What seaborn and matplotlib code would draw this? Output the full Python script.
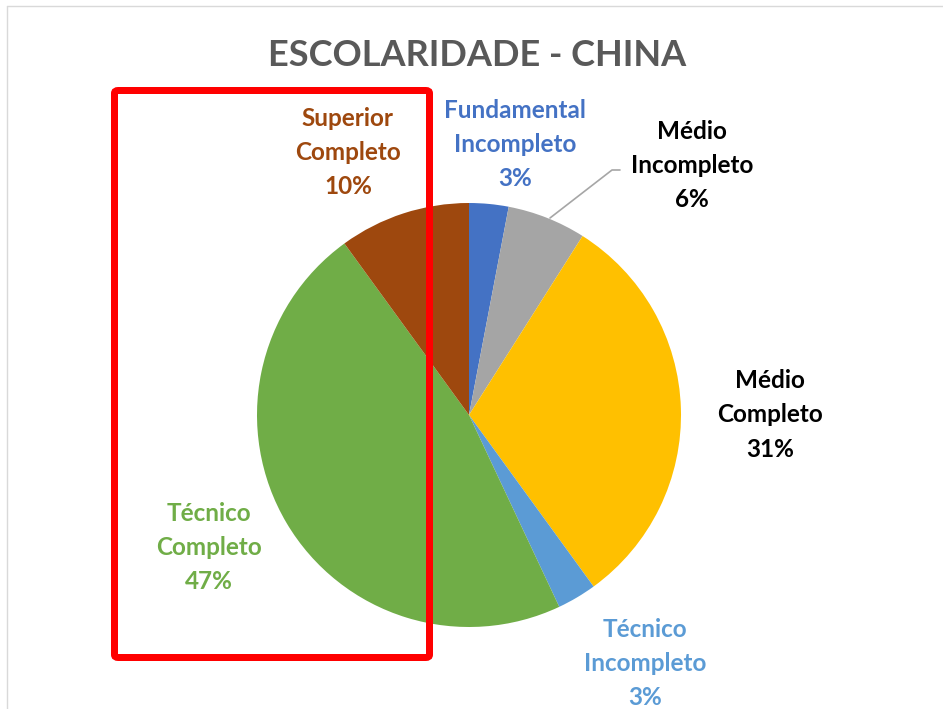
import matplotlib
matplotlib.use("Agg")
import matplotlib.pyplot as plt
from matplotlib.patches import FancyBboxPatch
from matplotlib.lines import Line2D
import seaborn as sns

# Education level shares, clockwise from 12 o'clock
categories = ["Fundamental\nIncompleto", "Médio\nIncompleto", "Médio\nCompleto",
              "Técnico\nIncompleto", "Técnico\nCompleto", "Superior\nCompleto"]
shares = [3, 6, 31, 3, 47, 10]
slice_colors = ["#4472C4", "#A5A5A5", "#FFC000", "#5B9BD5", "#70AD47", "#9E480E"]
label_colors = ["#4472C4", "#000000", "#000000", "#5B9BD5", "#70AD47", "#9E480E"]
title = "ESCOLARIDADE - CHINA"

# label anchor positions in pie-radius units
label_pos = [(0.217, 1.274), (1.052, 1.179), (1.42, 0.0),
             (0.83, -1.17), (-1.226, -0.627), (-0.571, 1.24)]

sns.set_theme(style="white")
plt.rcParams["font.family"] = ["Lato", "DejaVu Sans"]

W, H, DPI = 943, 709, 100
fig = plt.figure(figsize=(W / DPI, H / DPI), dpi=DPI)
fig.patch.set_facecolor("white")
ax = fig.add_axes([0, 0, 1, 1])

R_PX = 212.0
CX, CY = 469.0, 415.0
ax.pie(shares, colors=slice_colors, startangle=90, counterclock=False,
       radius=1.0, center=(0, 0), wedgeprops=dict(linewidth=0))
ax.set_aspect("auto")
ax.set_xlim(-CX / R_PX, (W - CX) / R_PX)
ax.set_ylim(-(H - CY) / R_PX, CY / R_PX)
ax.axis("off")

for text, pct, (x, y), c in zip(categories, shares, label_pos, label_colors):
    ax.text(x, y, f"{text}\n{pct}%", ha="center", va="center", color=c,
            fontsize=17.5, fontweight="bold", linespacing=1.58)

# leader line for the small grey slice
def px(x, y):
    return ((x - CX) / R_PX, (CY - y) / R_PX)
p0, p1, p2 = px(550, 218), px(612, 170), px(620, 170)
ax.add_line(Line2D([p0[0], p1[0], p2[0]], [p0[1], p1[1], p2[1]],
                   color="#A6A6A6", linewidth=1.2))

fig.text(477 / W, (H - 55) / H, title, ha="center", va="center",
         fontsize=26, fontweight="bold", color="#595959")

# chart frame edge
fig.add_artist(Line2D([7 / W, 7 / W], [0, 1 - 6 / H], transform=fig.transFigure,
                      color="#D9D9D9", linewidth=1))
fig.add_artist(Line2D([7 / W, 1], [1 - 6 / H, 1 - 6 / H], transform=fig.transFigure,
                      color="#D9D9D9", linewidth=1))

# red highlight box
x0, x1, y0, y1 = 114.5, 429.5, 90.5, 657.5
box = FancyBboxPatch((x0 / W, 1 - y1 / H), (x1 - x0) / W, (y1 - y0) / H,
                     boxstyle="round,pad=0,rounding_size=0.004",
                     transform=fig.transFigure, fill=False,
                     edgecolor="#FF0000", linewidth=7 * 72 / DPI)
fig.add_artist(box)

fig.savefig("out.png", dpi=DPI)
